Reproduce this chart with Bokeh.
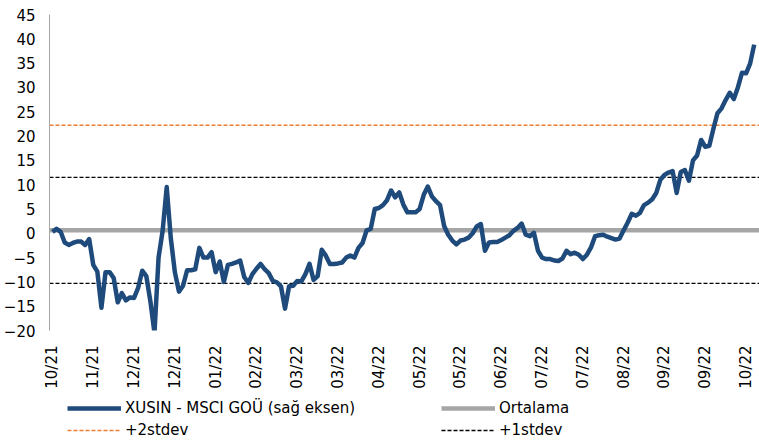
import math
from bokeh.plotting import figure
from bokeh.layouts import column
from bokeh.models import Range1d, FixedTicker, Legend, LegendItem, ColumnDataSource
from bokeh.embed import file_html
from bokeh.resources import INLINE

# ---- data ----
tick_labels = ["10/21", "11/21", "12/21", "12/21", "01/22", "02/22", "03/22", "03/22",
               "04/22", "05/22", "05/22", "06/22", "07/22", "07/22", "08/22", "09/22",
               "09/22", "10/22"]
points_per_label = 10

spread = [
    0.3, 0.9, 0.3, -1.9, -2.4, -2.0, -1.7, -1.7, -2.4, -1.2,
    -6.5, -7.9, -15.3, -8.0, -8.0, -9.2, -14.2, -12.3, -13.8, -13.2,
    -13.3, -11.2, -7.7, -8.8, -14.0, -20.5, -5.0, 0.5, 9.5, -1.0,
    -8.0, -12.0, -10.8, -7.6, -7.6, -7.4, -3.0, -5.0, -5.0, -3.9,
    -8.0, -5.8, -10.0, -6.5, -6.3, -6.0, -5.6, -9.0, -10.2, -8.4,
    -7.3, -6.3, -7.4, -8.2, -9.8, -10.1, -10.9, -15.5, -10.9, -10.8,
    -9.8, -9.9, -8.4, -6.3, -9.6, -8.8, -3.4, -4.6, -6.3, -6.3,
    -6.2, -6.0, -5.0, -4.6, -5.0, -3.0, -2.0, 0.6, 0.9, 5.0,
    5.2, 5.8, 6.8, 8.8, 7.4, 8.4, 5.9, 4.3, 4.3, 4.3,
    5.0, 7.9, 9.6, 7.6, 6.6, 5.8, 1.5, -0.3, -1.5, -2.3,
    -1.5, -1.3, -0.9, 0.0, 1.4, 1.9, -3.6, -1.9, -1.8, -1.8,
    -1.4, -0.9, -0.4, 0.5, 1.1, 2.0, -0.3, -0.6, 0.1, -3.6,
    -5.0, -5.3, -5.3, -5.6, -5.7, -5.2, -3.6, -4.3, -4.0, -4.4,
    -5.3, -4.4, -2.9, -0.6, -0.4, -0.3, -0.7, -1.0, -1.3, -1.1,
    0.6, 2.2, 4.0, 3.6, 4.2, 5.8, 6.3, 7.0, 8.3, 11.0,
    12.0, 12.5, 12.8, 8.3, 12.6, 13.0, 10.8, 15.0, 16.0, 19.2,
    17.8, 18.0, 21.5, 24.7, 25.7, 27.4, 28.9, 27.6, 30.0, 33.0,
    32.9, 34.9, 38.8,
]
mean_level = 0.6
plus2_sd = 22.2
plus1_sd = 11.5
minus1_sd = -10.3

series_name = "XUSIN - MSCI GOÜ (sağ eksen)"
mean_name = "Ortalama"
plus2_name = "+2stdev"
plus1_name = "+1stdev"

# ---- styles ----
FONT = "DejaVu Sans"
FS = "15px"
BLUE = "#1f4a7c"
GREY = "#a6a6a6"
ORANGE = "#ed7d31"
BLACK = "#000000"
W = 759

x = list(range(len(spread)))
x_lo, x_hi = -0.73, len(spread) + 0.3
hx = [x_lo, x_hi]
src = ColumnDataSource(dict(x=x, y=spread))


def draw_series(fig):
    r_mean = fig.line(hx, [mean_level, mean_level], line_color=GREY, line_width=4.5)
    r_p2 = fig.line(hx, [plus2_sd, plus2_sd], line_color=ORANGE, line_width=1.5, line_dash="4 2")
    r_p1 = fig.line(hx, [plus1_sd, plus1_sd], line_color=BLACK, line_width=1.3, line_dash="4 2")
    fig.line(hx, [minus1_sd, minus1_sd], line_color=BLACK, line_width=1.3, line_dash="4 2")
    r_main = fig.line("x", "y", source=src, line_color=BLUE, line_width=4.5, line_join="round")
    return r_main, r_mean, r_p2, r_p1


# ---- main chart ----
p = figure(width=W, height=396, output_backend="svg", toolbar_location=None,
           x_range=Range1d(x_lo, x_hi), y_range=Range1d(-20, 45),
           min_border_left=45, min_border_right=0, min_border_top=14,
           min_border_bottom=66)
p.outline_line_color = None
p.xgrid.visible = False
p.ygrid.visible = False
p.background_fill_color = "white"
p.border_fill_color = "white"
draw_series(p)

# y axis
p.yaxis.ticker = FixedTicker(ticks=list(range(-20, 50, 5)))
p.yaxis.axis_line_color = GREY
p.yaxis.major_tick_line_color = None
p.yaxis.minor_tick_line_color = None
p.yaxis.major_tick_out = 0
p.yaxis.major_label_standoff = 14
p.yaxis.major_label_text_font = FONT
p.yaxis.major_label_text_font_size = FS
p.yaxis.major_label_text_color = BLACK

# x axis
p.xaxis.ticker = FixedTicker(ticks=[i * points_per_label for i in range(len(tick_labels))])
p.xaxis.major_label_overrides = {i * points_per_label: t for i, t in enumerate(tick_labels)}
p.xaxis.major_label_orientation = math.pi / 2
p.xaxis.axis_line_color = None
p.xaxis.major_tick_line_color = None
p.xaxis.minor_tick_line_color = None
p.xaxis.major_tick_out = 0
p.xaxis.major_tick_in = 0
p.xaxis.major_label_standoff = 15
p.xaxis.major_label_text_font = FONT
p.xaxis.major_label_text_font_size = FS
p.xaxis.major_label_text_color = BLACK

# ---- legend strip (same series, drawn out of view; only the legend shows) ----
lg = figure(width=W, height=46, output_backend="svg", toolbar_location=None,
            x_range=Range1d(x_lo, x_hi), y_range=Range1d(1000, 1001), min_border=0,
            x_axis_location=None, y_axis_location=None)
lg.xgrid.visible = False
lg.ygrid.visible = False
lg.outline_line_color = None
l_main, l_mean, l_p2, l_p1 = draw_series(lg)

legend = Legend(items=[LegendItem(label=series_name, renderers=[l_main]),
                       LegendItem(label=mean_name, renderers=[l_mean]),
                       LegendItem(label=plus2_name, renderers=[l_p2]),
                       LegendItem(label=plus1_name, renderers=[l_p1])],
                orientation="horizontal", ncols=2,
                location=(18, 3), margin=0, padding=0, spacing=4,
                glyph_width=54, glyph_height=16, label_standoff=4,
                label_width=312, label_height=16,
                label_text_font=FONT, label_text_font_size=FS,
                label_text_color=BLACK,
                border_line_color=None, background_fill_alpha=0)
lg.add_layout(legend, "center")

layout = column(p, lg, spacing=0)
open("out.html", "w").write(file_html(layout, INLINE))
